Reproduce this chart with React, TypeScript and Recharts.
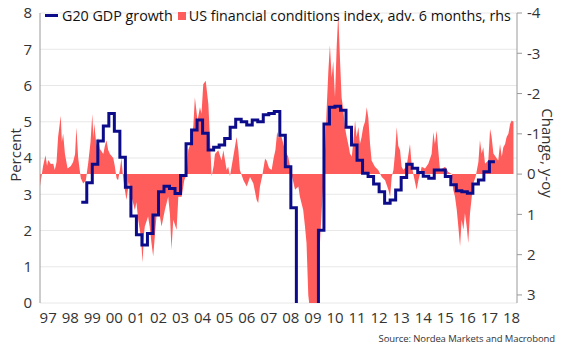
import { ComposedChart, Area, Line, XAxis, YAxis, CartesianGrid } from 'recharts';

// G20 GDP growth, quarterly, % y/y (first quarter 1999Q1)
const gdpStartYear = 1999;
const gdpGrowth = [
  2.78, 3.32, 3.83, 4.47,
  4.88, 5.23, 4.74, 4.02,
  3.19, 2.4, 1.88, 1.6,
  1.92, 2.43, 3.07, 3.22,
  3.16, 3.02, 3.52, 4.39,
  4.77, 5.05, 4.68, 4.22,
  4.3, 4.36, 4.54, 4.85,
  5.07, 5.0, 4.91, 5.05,
  5.0, 5.19, 5.23, 5.28,
  4.63, 3.76, 2.63, -0.6,
  -2.5, -1.8, -0.8, 2.01,
  4.94, 5.4, 5.43, 5.32,
  4.85, 4.36, 3.94, 3.58,
  3.49, 3.28, 3.07, 2.75,
  2.84, 3.12, 3.46, 3.83,
  3.72, 3.6, 3.5, 3.44,
  3.67, 3.67, 3.49, 3.26,
  3.1, 3.07, 3.03, 3.28,
  3.39, 3.62, 3.9, 3.9,
];

// US financial conditions index, change y/y, advanced 6 months (rhs, inverted)
const fciTime = [
  1997.13, 1997.2, 1997.27, 1997.38, 1997.45, 1997.5, 1997.62, 1997.73, 1997.8, 1997.88, 1997.95,
  1998.07, 1998.12, 1998.18, 1998.26, 1998.38, 1998.53, 1998.63, 1998.72, 1998.78, 1998.86, 1998.98,
  1999.09, 1999.21, 1999.32, 1999.42, 1999.5, 1999.55, 1999.59, 1999.69, 1999.76, 1999.84,
  2000.0, 2000.07, 2000.14, 2000.22, 2000.3, 2000.45, 2000.52, 2000.6, 2000.67, 2000.75, 2000.82, 2000.88, 2000.95,
  2001.05, 2001.16, 2001.28, 2001.43, 2001.5, 2001.58, 2001.7, 2001.78, 2001.84, 2001.88,
  2002.03, 2002.1, 2002.18, 2002.26, 2002.37, 2002.45, 2002.52, 2002.64, 2002.79, 2002.94,
  2003.02, 2003.09, 2003.17, 2003.32, 2003.4, 2003.55, 2003.67, 2003.78, 2003.85,
  2004.0, 2004.08, 2004.15, 2004.27, 2004.38, 2004.45, 2004.53, 2004.64, 2004.76, 2004.83, 2004.91,
  2005.0, 2005.06, 2005.21, 2005.36, 2005.44, 2005.59, 2005.66, 2005.74, 2005.89,
  2006.04, 2006.12, 2006.19, 2006.35, 2006.5, 2006.65, 2006.8, 2006.95,
  2007.02, 2007.1, 2007.2, 2007.33, 2007.4, 2007.51, 2007.63, 2007.72, 2007.8, 2007.88, 2007.95,
  2008.02, 2008.08, 2008.23, 2008.38, 2008.53, 2008.69, 2008.84, 2008.91,
  2009.06, 2009.14, 2009.21, 2009.29, 2009.37, 2009.52, 2009.67, 2009.74, 2009.82, 2009.9, 2009.97,
  2010.05, 2010.12, 2010.2, 2010.27, 2010.35, 2010.42, 2010.5, 2010.58, 2010.65, 2010.73, 2010.8, 2010.88, 2010.95,
  2011.03, 2011.1, 2011.18, 2011.26, 2011.33, 2011.41, 2011.48, 2011.56, 2011.63, 2011.7, 2011.78, 2011.86, 2011.94,
  2012.01, 2012.09, 2012.16, 2012.31, 2012.46, 2012.62, 2012.77, 2012.92,
  2013.0, 2013.07, 2013.15, 2013.22, 2013.3, 2013.37, 2013.45, 2013.52, 2013.6, 2013.75, 2013.9, 2013.97,
  2014.05, 2014.2, 2014.28, 2014.43, 2014.58, 2014.73, 2014.88, 2014.96,
  2015.03, 2015.11, 2015.18, 2015.26, 2015.49, 2015.64, 2015.79, 2015.86, 2015.94,
  2016.02, 2016.09, 2016.17, 2016.24, 2016.32, 2016.39, 2016.47, 2016.54, 2016.62, 2016.7, 2016.77, 2016.88,
  2017.0, 2017.07, 2017.15, 2017.22, 2017.3, 2017.45, 2017.53, 2017.6, 2017.68, 2017.78, 2017.9, 2017.98,
  2018.06, 2018.13, 2018.21, 2018.28, 2018.36, 2018.44, 2018.51, 2018.59,
];
const fciChange = [
  0.3, 0.05, -0.2, -0.47, -0.2, -0.35, -0.25, -0.26, -0.1, -0.3, -0.92,
  -1.45, -0.8, -1.0, -0.5, -0.14, -0.2, -0.3, -0.5, -1.16, -0.4, 0.1,
  0.23, 0.15, -0.3, -0.8, -1.49, -0.9, -1.25, -0.7, -0.9, -0.63,
  -0.5, -0.7, -0.84, -0.6, -0.5, -0.4, -0.2, 0.1, 0.15, -0.1, -0.4, 0.0, 0.3,
  0.64, 0.2, 0.56, 0.89, 0.7, 1.13, 1.54, 2.2, 1.5, 1.3,
  1.05, 1.3, 1.7, 2.04, 1.3, 0.8, 0.9, 1.3, 0.89, 0.56,
  1.0, 1.87, 1.13, 1.38, 0.56, 0.56, 0.15, 0.0, -0.6,
  -0.84, -1.2, -1.9, -1.33, -1.66, -1.5, -2.23, -2.32, -1.74, -0.92, 0.05,
  -0.2, -0.5, -0.59, -0.34, -0.59, -0.1, -0.18, 0.05, -0.43,
  -0.92, -0.59, -0.1, 0.15, 0.31, 0.07, 0.23, 0.64,
  0.72, 0.31, 0.05, -0.38, -0.34, -0.15, -0.1, -0.4, -0.6, -1.05, -0.9,
  -1.0, -0.92, -0.6, -0.43, 0.0, 0.39, 0.31, 0.56,
  0.89, 1.3, 1.71, 3.0, 3.4, 3.5, 3.4, 2.6, 1.7, 0.89, 0.23,
  -0.6, -1.58, -2.56, -3.2, -2.4, -2.8, -1.9, -3.2, -4.0, -2.8, -1.9, -1.58, -1.17,
  -0.92, -0.75, -0.51, -0.43, -0.8, -1.33, -0.92, -1.17, -0.75, -0.9, -1.17, -1.3, -1.66,
  -1.4, -0.75, -0.34, -0.18, -0.1, 0.07, 0.15, 0.39,
  0.56, 0.07, -0.1, -0.51, -1.17, -0.7, -0.59, -0.18, -0.1, -0.2, -0.75, -0.26,
  0.0, 0.39, 0.15, -0.18, -0.14, -0.26, -0.5, -1.04,
  -0.75, -1.08, -0.59, -0.1, -0.18, -0.05, 0.0, 0.39, 0.56,
  0.89, 1.3, 1.79, 1.13, 1.38, 0.97, 1.3, 1.71, 0.97, 0.56, 0.23, 0.05,
  -0.3, -0.84, -0.51, -0.67, -0.26, -0.34, -1.12, -0.92, -0.51, -0.43, -0.34, -0.75,
  -0.43, -0.67, -0.75, -0.92, -1.0, -1.25, -1.33, -1.3,
];

const yearBoundaries = [
  1998, 1999, 2000, 2001, 2002, 2003, 2004, 2005, 2006, 2007, 2008,
  2009, 2010, 2011, 2012, 2013, 2014, 2015, 2016, 2017, 2018,
];
const yearLabels = [
  '97', '98', '99', '00', '01', '02', '03', '04', '05', '06', '07',
  '08', '09', '10', '11', '12', '13', '14', '15', '16', '17', '18',
];
const leftTicks = [0, 1, 2, 3, 4, 5, 6, 7, 8];
const rightTicks = [-4, -3, -2, -1, 0, 1, 2, 3];

const gdpData = gdpGrowth.map((v, i) => ({ t: gdpStartYear + i * 0.25, gdp: v }));
const fciData = fciTime.map((t, i) => ({ t, fci: fciChange[i] }));
const labelTicks = yearLabels.map((_, i) => 1997.5 + i);

const NAVY = '#0c0c8a';
const RED = '#ff5c5c';
const AXIS = '#9a9a9a';
const TEXT = '#333';
const FONT = '"Open Sans", "Noto Sans", sans-serif';
const xDomain = [1997.13, 2018.75];

export default function App() {
  return (
    <div style={{ position: 'absolute', left: 0, top: 0, width: 570, height: 355, background: '#fff', fontFamily: FONT }}>
      <ComposedChart width={570} height={355} margin={{ top: 13, right: 0, bottom: 0, left: 0 }}>
        <CartesianGrid yAxisId="left" xAxisId="x" vertical={false} stroke="#e8e8e8" />
        <XAxis
          xAxisId="x"
          dataKey="t"
          type="number"
          domain={xDomain}
          allowDataOverflow
          ticks={yearBoundaries}
          tick={false}
          tickSize={5}
          height={0}
          stroke={AXIS}
        />
        <XAxis
          xAxisId="labels"
          dataKey="t"
          type="number"
          domain={xDomain}
          allowDataOverflow
          ticks={labelTicks}
          interval={0}
          tickFormatter={(v: number) => yearLabels[Math.round(v - 1997.5)]}
          tickLine={false}
          axisLine={false}
          tickSize={0}
          tickMargin={9}
          height={52}
          tick={{ fontSize: 15, fill: TEXT, fontFamily: FONT }}
        />
        <YAxis
          yAxisId="left"
          domain={[0, 8]}
          allowDataOverflow
          ticks={leftTicks}
          interval={0}
          width={40}
          tickLine={false}
          tickSize={0}
          tickMargin={8}
          stroke={AXIS}
          tick={{ fontSize: 15, fill: TEXT, fontFamily: FONT }}
        />
        <YAxis
          yAxisId="right"
          orientation="right"
          reversed
          domain={[-4, 3.2]}
          allowDataOverflow
          ticks={rightTicks}
          interval={0}
          width={53}
          tickSize={5}
          tickMargin={5}
          stroke={AXIS}
          tick={{ fontSize: 15, fill: TEXT, fontFamily: FONT }}
        />
        <Area
          data={fciData}
          xAxisId="x"
          yAxisId="right"
          dataKey="fci"
          type="linear"
          baseValue={0}
          fill={RED}
          fillOpacity={1}
          stroke="none"
          isAnimationActive={false}
        />
        <Line
          data={gdpData}
          xAxisId="x"
          yAxisId="left"
          dataKey="gdp"
          type="stepAfter"
          stroke={NAVY}
          strokeWidth={3}
          dot={false}
          isAnimationActive={false}
        />
      </ComposedChart>

      <div style={{ position: 'absolute', left: 45, top: 6, display: 'flex', alignItems: 'center', fontSize: 14.3, color: '#111', whiteSpace: 'nowrap' }}>
        <span style={{ display: 'inline-block', width: 13, height: 3, background: NAVY, marginRight: 4 }} />
        <span>G20 GDP growth</span>
        <span style={{ display: 'inline-block', width: 8, height: 8, background: RED, marginLeft: 5, marginRight: 3 }} />
        <span>US financial conditions index, adv. 6 months, rhs</span>
      </div>

      <div style={{ position: 'absolute', left: 15, top: 155, transform: 'translate(-50%, -50%) rotate(-90deg)', fontSize: 15, color: TEXT, whiteSpace: 'nowrap' }}>
        Percent
      </div>
      <div style={{ position: 'absolute', left: 548, top: 153, transform: 'translate(-50%, -50%) rotate(90deg)', fontSize: 15, color: TEXT, whiteSpace: 'nowrap' }}>
        Change, y-oy
      </div>
      <div style={{ position: 'absolute', right: 15, top: 332, fontSize: 9.5, letterSpacing: -0.1, color: TEXT, whiteSpace: 'nowrap' }}>
        Source: Nordea Markets and Macrobond
      </div>
    </div>
  );
}
